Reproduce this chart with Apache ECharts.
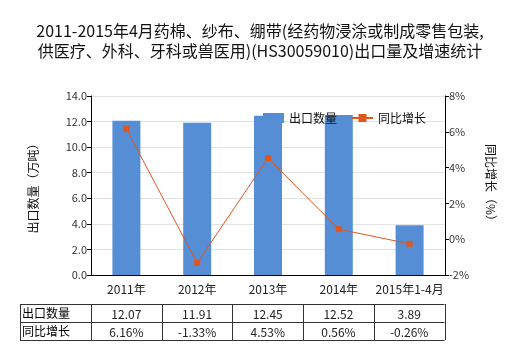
<!DOCTYPE html>
<html><head><meta charset="utf-8">
<script src="https://cdn.jsdelivr.net/npm/echarts@6/dist/echarts.min.js"></script>
<style>html,body{margin:0;padding:0;background:#fff}#c{width:520px;height:350px}</style>
</head><body><div id="c"></div>
<script>
var categories = ['2011年','2012年','2013年','2014年','2015年1-4月'];
var exportQty = [12.07, 11.91, 12.45, 12.52, 3.89];
var growth = [6.16, -1.33, 4.53, 0.56, -0.26];
var qtyLabels = ['12.07','11.91','12.45','12.52','3.89'];
var growthLabels = ['6.16%','-1.33%','4.53%','0.56%','-0.26%'];
var rowNames = ['出口数量','同比增长'];

var FONT = '"Noto Sans CJK SC","Microsoft YaHei",sans-serif';
var chart = echarts.init(document.getElementById('c'));

// table layout
var tLeft = 20, tFirstW = 71, tTop = 304, rowH = 18, colW = 70.7;
var nCols = categories.length;
var tRight = tLeft + tFirstW + colW * nCols;
var g = [];
var lineStyle = {stroke:'#333', lineWidth:1};
for (var r = 0; r <= 2; r++) {
  var y = Math.round(tTop + r*rowH) + 0.5;
  g.push({type:'line', shape:{x1:tLeft, y1:y, x2:tRight, y2:y}, style:lineStyle, silent:true});
}
var xs = [tLeft, tLeft + tFirstW];
for (var c2 = 1; c2 <= nCols; c2++) xs.push(tLeft + tFirstW + colW*c2);
xs.forEach(function(x){
  x = Math.round(x) + 0.5;
  g.push({type:'line', shape:{x1:x, y1:tTop, x2:x, y2:tTop+2*rowH}, style:lineStyle, silent:true});
});
var rows = [qtyLabels, growthLabels];
for (var r2 = 0; r2 < 2; r2++) {
  var cy = tTop + r2*rowH + rowH/2;
  g.push({type:'text', x: tLeft+2, y: cy, style:{text:rowNames[r2], font:'12px '+FONT, fill:'#000', verticalAlign:'middle', align:'left'}});
  for (var k = 0; k < nCols; k++) {
    g.push({type:'text', x: tLeft + tFirstW + colW*k + colW/2, y: cy+1, style:{text:rows[r2][k], font:'12px '+FONT, fill:'#222', verticalAlign:'middle', align:'center'}});
  }
}

chart.setOption({
  animation:false,
  textStyle:{fontFamily:FONT},
  title:{
    text:'2011-2015年4月药棉、纱布、绷带(经药物浸涂或制成零售包装,\n供医疗、外科、牙科或兽医用)(HS30059010)出口量及增速统计',
    left:'center', top:16,
    textStyle:{fontSize:16, fontWeight:'normal', color:'#111', lineHeight:20, fontFamily:FONT}
  },
  legend:{
    left:258, top:107, itemGap:14, itemWidth:21, itemHeight:10,
    textStyle:{fontSize:12, color:'#111'},
    data:[{name:'出口数量', icon:'rect'},{name:'同比增长'}]
  },
  grid:{left:91, right:75, top:96, bottom:75},
  xAxis:{
    type:'category', data:categories,
    axisLine:{lineStyle:{color:'#000'}},
    axisTick:{alignWithLabel:true, length:4, lineStyle:{color:'#000'}},
    axisLabel:{color:'#222', fontSize:12, margin:8, interval:0}
  },
  yAxis:[{
    type:'value', min:0, max:14, interval:2,
    name:'出口数量（万吨）', nameLocation:'middle', nameGap:52,
    nameTextStyle:{fontSize:12, color:'#111'},
    axisLine:{show:true, lineStyle:{color:'#000'}},
    axisTick:{show:true, length:4, lineStyle:{color:'#000'}},
    axisLabel:{color:'#333', fontSize:11, margin:4, formatter:function(v){return v.toFixed(1);}},
    splitLine:{lineStyle:{color:'#e3e3e3'}}
  },{
    type:'value', min:-2, max:8, interval:2,
    name:'同比增长（%）', nameLocation:'middle', nameGap:40, nameRotate:-90,
    nameTextStyle:{fontSize:12, color:'#111'},
    axisLine:{show:true, lineStyle:{color:'#000'}},
    axisTick:{show:true, length:4, lineStyle:{color:'#000'}},
    axisLabel:{color:'#333', fontSize:11, margin:4, formatter:'{value}%'},
    splitLine:{show:false}
  }],
  series:[{
    name:'出口数量', type:'bar', data:exportQty, barWidth:28,
    itemStyle:{color:'#558ed5'}
  },{
    name:'同比增长', type:'line', yAxisIndex:1, data:growth,
    symbol:'rect', symbolSize:6,
    lineStyle:{color:'#e0561f', width:1},
    itemStyle:{color:'#e0561f'}
  }],
  graphic:g
});
</script></body></html>
